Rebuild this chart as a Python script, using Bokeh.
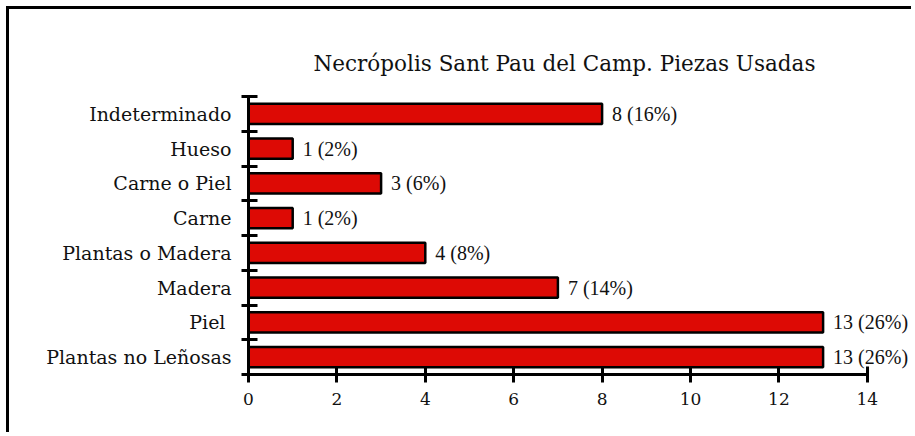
from bokeh.plotting import figure
from bokeh.models import ColumnDataSource, FixedTicker, LabelSet, Range1d
from bokeh.embed import file_html
from bokeh.resources import INLINE

title = "Necrópolis Sant Pau del Camp. Piezas Usadas"
categories = ["Plantas no Leñosas", "Piel ", "Madera", "Plantas o Madera",
              "Carne", "Carne o Piel", "Hueso", "Indeterminado"]
values = [13, 13, 7, 4, 1, 3, 1, 8]
x_ticks = [0, 2, 4, 6, 8, 10, 12, 14]

total = sum(values)
pos = [i + 0.5 for i in range(len(categories))]
labels = [f"{v} ({round(v * 100 / total)}%)" for v in values]
src = ColumnDataSource(dict(y=pos, v=values, lab=labels))

FONT = "DejaVu Serif"

p = figure(width=905, height=426, output_backend="svg", toolbar_location=None,
           x_range=Range1d(0, 15), y_range=Range1d(0, len(categories)),
           min_border_left=239, min_border_right=3, min_border_top=87,
           min_border_bottom=61, title=title)
p.styles = {"border-left": "3px solid black", "border-top": "3px solid black",
            "margin-left": "6px", "margin-top": "6px"}
p.outline_line_color = None
p.xgrid.visible = False
p.ygrid.visible = False

p.title.align = "left"
p.title.offset = 65
p.title.text_font = FONT
p.title.text_font_size = "21.5px"
p.title.text_font_style = "normal"
p.title.text_color = "#111111"
p.title.standoff = 42

p.hbar(y="y", right="v", left=0, height=0.58, source=src,
       fill_color="#DD0A05", line_color="black", line_width=2.5)

p.add_layout(LabelSet(x="v", y="y", text="lab", source=src, x_offset=10,
                      text_baseline="middle", text_font=FONT,
                      text_font_size="20px", text_color="#111111"))

xa = p.xaxis[0]
xa.ticker = FixedTicker(ticks=x_ticks, minor_ticks=[])
xa.bounds = (x_ticks[0], x_ticks[-1])
xa.axis_line_width = 3
xa.major_tick_line_width = 3
xa.major_tick_in = 8
xa.major_tick_out = 8
xa.minor_tick_line_color = None
xa.major_label_standoff = 10
xa.major_label_text_font = FONT
xa.major_label_text_font_size = "17px"
xa.major_label_text_color = "#111111"

ya = p.yaxis[0]
ya.ticker = FixedTicker(ticks=pos, minor_ticks=list(range(len(categories) + 1)))
ya.major_label_overrides = {pos[i]: categories[i] for i in range(len(categories))}
ya.axis_line_width = 3
ya.major_tick_line_color = None
ya.major_tick_in = 0
ya.major_tick_out = 0
ya.minor_tick_line_width = 3
ya.minor_tick_in = 9
ya.minor_tick_out = 7
ya.major_label_standoff = 10
ya.major_label_text_font = FONT
ya.major_label_text_font_size = "19px"
ya.major_label_text_color = "#111111"

open("out.html", "w").write(file_html(p, INLINE))
